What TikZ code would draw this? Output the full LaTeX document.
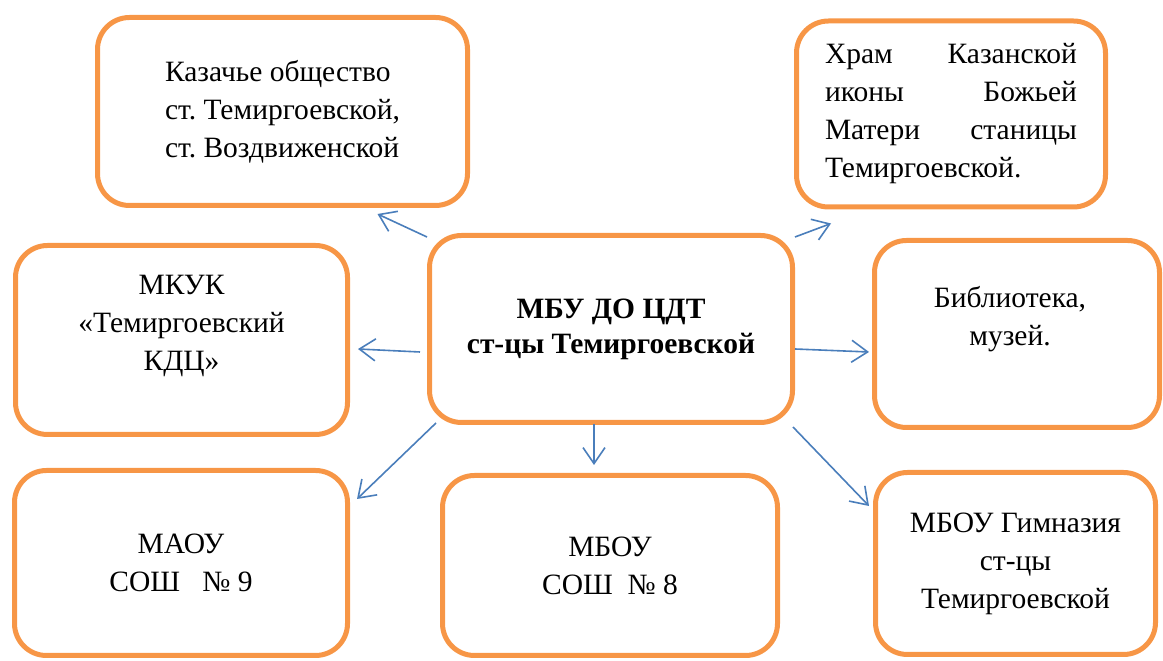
\documentclass[tikz,border=0pt]{standalone}
\usepackage{fontspec}
\setmainfont{Liberation Serif}
\usetikzlibrary{arrows.meta,calc}

\definecolor{boxorange}{HTML}{F79646}
\definecolor{arrowblue}{HTML}{4A7EBB}
\frenchspacing

\begin{document}
\begin{tikzpicture}[x=1pt,y=1pt,
	orgbox/.style={draw=boxorange,line width=5pt,rounded corners=32pt,rectangle,align=center,font=\fontsize{29.5}{38}\selectfont},
	plaintext/.style={align=center,font=\fontsize{29.5}{38}\selectfont},
	link/.style={draw=arrowblue,line width=1.6pt,-{Straight Barb[length=16pt,width=22pt]}}]

\useasboundingbox (0,0) rectangle (1163,661);

\node[orgbox,minimum width=363pt,minimum height=187pt,font=\fontsize{29.5}{35}\selectfont\bfseries] (centre) at (611,332) {МБУ ДО ЦДТ\\ст-цы Темиргоевской};


\node[orgbox,minimum width=370pt,minimum height=188pt,align=left] (kazaki) at (282.5,549.5) {Казачье общество\\ст. Темиргоевской,\\ст. Воздвиженской};


\node[orgbox,minimum width=309pt,minimum height=186pt,align=left,text width=252pt] (hram) at (951,547) {Храм\hfill Казанской\\иконы\hfill Божьей\\Матери\hfill станицы\\Темиргоевской.};


\node[orgbox,minimum width=332pt,minimum height=189pt] (mkuk) at (181.5,321) {};
\node[plaintext] (mkuk_text) at ($(mkuk.center)+(0,14)$) {МКУК\\«Темиргоевский\\КДЦ»};


\node[orgbox,minimum width=285pt,minimum height=187pt] (biblio) at (1017,327) {};
\node[plaintext] (biblio_text) at ($(biblio.center)+(-7,15)$) {Библиотека,\\музей.};


\node[orgbox,minimum width=333pt,minimum height=185pt] (sosh9) at (181,98) {МАОУ\\СОШ\ \ \ № 9};


\node[orgbox,minimum width=335pt,minimum height=180pt] (sosh8) at (610,95.5) {МБОУ\\СОШ\ \ № 8};


\node[orgbox,minimum width=280pt,minimum height=182pt] (gimn) at (1015.5,97.5) {МБОУ Гимназия\\ст-цы\\Темиргоевской};


\path[link] ($(centre.north west)+(0,-4)$) -- ($(kazaki.south)+(95,-6)$);
\path[link] ($(centre.west)+(-7,-23)$) -- ($(mkuk.east)+(8,-9)$);
\path[link] ($(centre.north east)+(0,-4)$) -- ($(hram.south)+(-120,-14)$);
\path[link] ($(centre.east)+(0,-20)$) -- ($(biblio.west)+(-3,-18)$);
\path[link] ($(centre.south west)+(9,2)$) -- ($(sosh9.north east)+(7,-31)$);
\path[link] ($(centre.south)+(-17,1)$) -- ($(sosh8.north)+(-16,8)$);
\path[link] ($(centre.south east)+(-2,-2)$) -- ($(gimn.north west)+(-4,-36)$);

\end{tikzpicture}
\end{document}
